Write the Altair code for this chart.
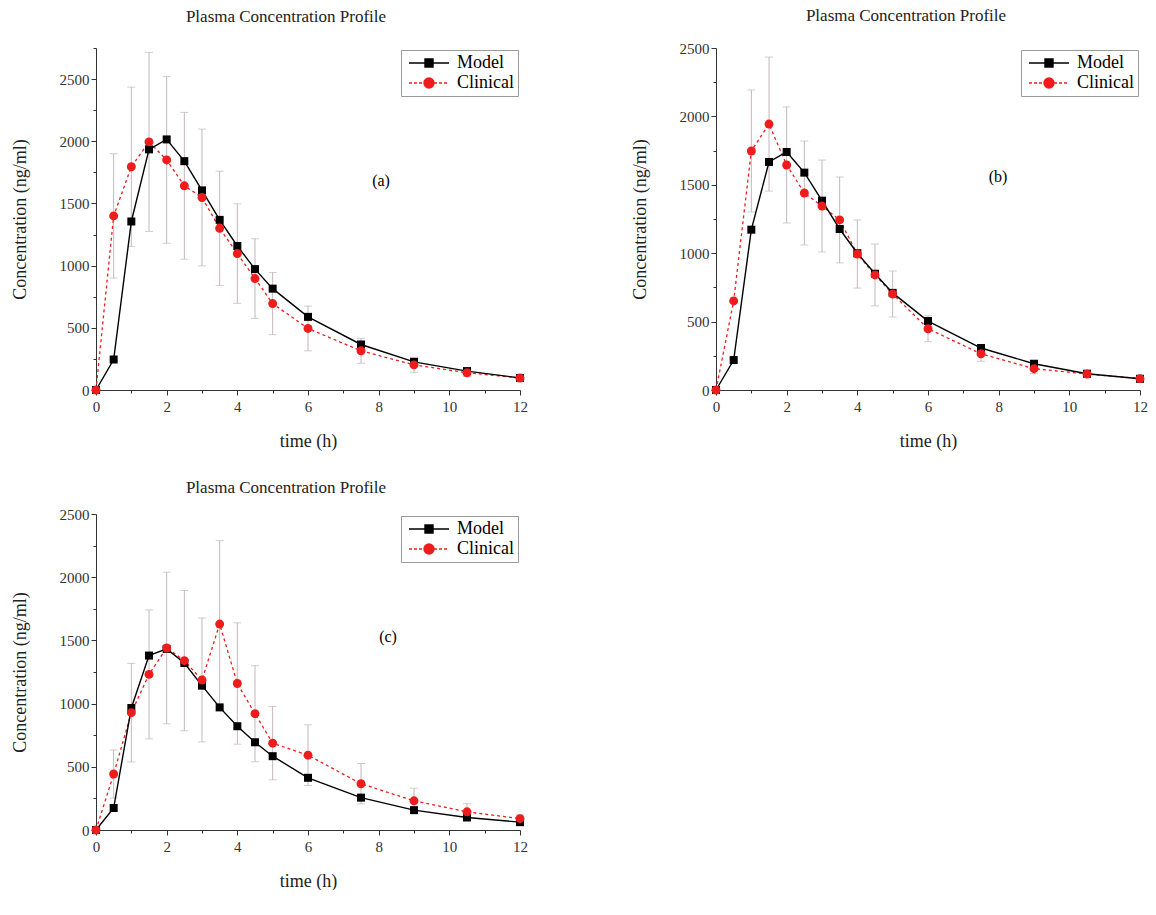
import altair as alt
import pandas as pd

# ---------------- data ----------------
TIME = [0, 0.5, 1, 1.5, 2, 2.5, 3, 3.5, 4, 4.5, 5, 6, 7.5, 9, 10.5, 12]

A_MODEL = [0, 245, 1355, 1935, 2015, 1840, 1605, 1368, 1158, 972, 815, 588, 366, 226, 152, 97]
A_CLIN = [0, 1400, 1795, 1995, 1850, 1642, 1548, 1300, 1097, 896, 695, 495, 315, 202, 139, 96]
A_SD = [0, 500, 640, 720, 670, 590, 550, 460, 400, 320, 250, 180, 100, 60, 30, 20]

B_MODEL = [0, 219, 1172, 1667, 1740, 1589, 1384, 1177, 1000, 850, 710, 504, 307, 192, 119, 82]
B_CLIN = [0, 651, 1747, 1944, 1645, 1440, 1345, 1243, 994, 841, 702, 448, 265, 156, 117, 83]
B_SD = [0, 0, 446, 490, 424, 380, 336, 314, 249, 226, 168, 95, 55, 35, 25, 15]

C_MODEL = [0, 174, 965, 1380, 1433, 1321, 1142, 970, 821, 694, 584, 413, 256, 157, 99, 62]
C_CLIN = [0, 443, 928, 1231, 1440, 1340, 1187, 1629, 1159, 920, 687, 592, 366, 231, 144, 90]
C_SD = [0, 190, 390, 510, 600, 555, 490, 660, 480, 380, 290, 240, 160, 100, 65, 30]

SERIES = ["Model", "Clinical"]
TITLE = "Plasma Concentration Profile"
Y_TITLE = "Concentration (ng/ml)"
X_TITLE = "time (h)"

# ---------------- style ----------------
FONT = "Liberation Serif"
RED = "#ee1c1c"
ERR = "#c4b6b6"
AXC = "#333333"

# legend glyphs: line segment with marker (units of 5 px)
SQ_PATH = "M-1,0H7M2.2,-0.8H3.8V0.8H2.2Z"
_dash = "".join(f"M{x0:.1f},0H{x0 + 0.6:.1f}" for x0 in [-1 + 1.0 * k for k in range(8)])
CI_PATH = _dash + "M4,0A1,1 0 1 1 2,0A1,1 0 1 1 4,0Z"

IND = dict(fill="independent", stroke="independent", shape="independent")


def panel(model, clin, sd, ymax, tag, height, toff, tagpos):
    rows = []
    for t, v in zip(TIME, model):
        rows.append({"t": t, "c": v, "series": "Model"})
    for t, v in zip(TIME, clin):
        rows.append({"t": t, "c": v, "series": "Clinical"})
    df = pd.DataFrame(rows)
    err = pd.DataFrame({
        "t": [t for t, s in zip(TIME, sd) if s > 0],
        "lo": [c - s for c, s in zip(clin, sd) if s > 0],
        "hi": [c + s for c, s in zip(clin, sd) if s > 0],
    })

    xs = alt.Scale(domain=[0, 12], nice=False, zero=True)
    ys = alt.Scale(domain=[0, ymax], nice=False)
    xax = alt.Axis(
        title=X_TITLE, values=list(range(0, 13)), format="d",
        labelExpr="datum.value % 2 === 0 ? datum.label : ''",
        tickSize={"condition": {"test": "datum.value % 2 === 0", "value": 5}, "value": 3},
        grid=False, titlePadding=18, labelPadding=4, labelFlush=False,
    )
    yax = alt.Axis(
        title=Y_TITLE, values=list(range(0, ymax + 1, 250)), format="d",
        labelExpr="datum.value % 500 === 0 ? datum.label : ''",
        tickSize={"condition": {"test": "datum.value % 500 === 0", "value": 5}, "value": 3},
        grid=False, titlePadding=30, labelPadding=2, labelFlush=False,
    )
    X = alt.X("t:Q", scale=xs, axis=xax)
    Y = alt.Y("c:Q", scale=ys, axis=yax)

    color_scale = alt.Scale(domain=SERIES, range=["black", RED])

    bars = alt.Chart(err).mark_errorbar(
        ticks={"size": 8, "thickness": 1, "color": ERR}, rule={"color": ERR, "strokeWidth": 1},
        color=ERR,
    ).encode(
        x=alt.X("t:Q", scale=xs, axis=xax),
        y=alt.Y("lo:Q", scale=ys, axis=yax),
        y2="hi:Q",
    )

    base = alt.Chart(df)
    line_m = base.transform_filter("datum.series === 'Model'").mark_line(
        color="black", strokeWidth=1.4).encode(x=X, y=Y, order="t:Q")
    line_c = base.transform_filter("datum.series === 'Clinical'").mark_line(
        color=RED, strokeWidth=1.3, strokeDash=[3, 3]).encode(x=X, y=Y, order="t:Q")
    pt_m = base.transform_filter("datum.series === 'Model'").mark_point(
        filled=True, shape="square", size=64, color="black", opacity=1).encode(x=X, y=Y)
    pt_c = base.transform_filter("datum.series === 'Clinical'").mark_point(
        filled=True, shape="circle", size=80, color=RED, opacity=1).encode(x=X, y=Y)

    legend = alt.Legend(
        title=None, orient="top-right", offset=2, strokeColor="#999999", fillColor="white",
        padding=4, rowPadding=2, labelFont=FONT, labelFontSize=18, labelColor="black",
        symbolSize=100, labelOffset=34, symbolOpacity=1, symbolStrokeWidth=1.4,
    )
    # invisible layer that only feeds the legend (kept away from the plot edges)
    leg = base.transform_filter("datum.t >= 1 && datum.t <= 6").mark_point(opacity=0, size=100).encode(
        x=X, y=Y,
        fill=alt.Fill("series:N", scale=color_scale, legend=legend),
        stroke=alt.Stroke("series:N", scale=color_scale, legend=legend),
        shape=alt.Shape("series:N", scale=alt.Scale(domain=SERIES, range=[SQ_PATH, CI_PATH]), legend=legend),
    )

    lab = alt.Chart(pd.DataFrame({"tag": [tag]})).mark_text(
        font=FONT, fontSize=16, color="black", align="center", baseline="middle"
    ).encode(text="tag:N", x=alt.value(tagpos[0]), y=alt.value(tagpos[1]))

    return alt.layer(bars, line_c, line_m, pt_m, pt_c, leg, lab).properties(
        width=424, height=height,
        title=alt.TitleParams(TITLE, font=FONT, fontSize=17, fontWeight="normal", color="#222222",
                              anchor="middle", dx=-22, offset=toff),
    )


pa = panel(A_MODEL, A_CLIN, A_SD, 2750, "(a)", 342, 22, (285, 133))
pb = panel(B_MODEL, B_CLIN, B_SD, 2500, "(b)", 342, 16, (282, 129))
pc = panel(C_MODEL, C_CLIN, C_SD, 2500, "(c)", 316, 10, (292, 123))

top = alt.hconcat(pa, pb, spacing=103).resolve_scale(**IND).resolve_legend(**IND)

chart = alt.vconcat(top, pc, spacing=29).resolve_scale(**IND).resolve_legend(**IND).properties(
    padding={"left": 3, "top": -1, "right": 0, "bottom": 0}
).configure_view(stroke=None).configure_axis(
    labelFont=FONT, labelFontSize=15, labelColor=AXC,
    titleFont=FONT, titleFontSize=18, titleFontWeight="normal", titleColor="#222222",
    domainColor=AXC, tickColor=AXC, domainWidth=1, tickWidth=1,
)

chart.save("out.html", embed_options={"renderer": "svg", "actions": False})
